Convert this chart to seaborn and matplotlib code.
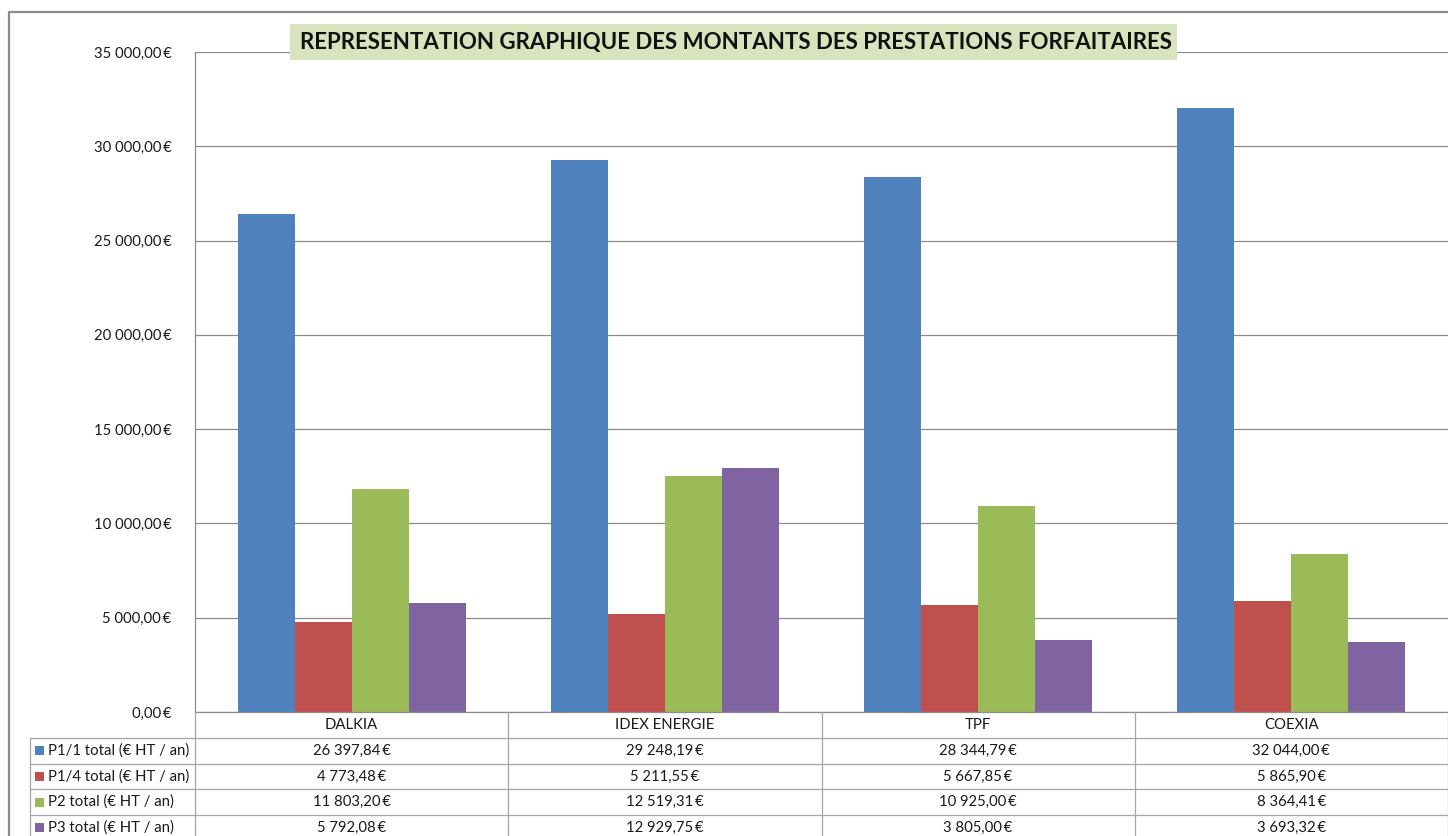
import matplotlib
matplotlib.use("Agg")
import matplotlib.pyplot as plt
import seaborn as sns
import pandas as pd
from matplotlib.lines import Line2D
from matplotlib.patches import Rectangle

companies = ["DALKIA", "IDEX ENERGIE", "TPF", "COEXIA"]
series_names = ["P1/1 total (€ HT / an)", "P1/4 total (€ HT / an)",
                "P2 total (€ HT / an)", "P3 total (€ HT / an)"]
p1_1 = [26397.84, 29248.19, 28344.79, 32044.00]
p1_4 = [4773.48, 5211.55, 5667.85, 5865.90]
p2 = [11803.20, 12519.31, 10925.00, 8364.41]
p3 = [5792.08, 12929.75, 3805.00, 3693.32]
yticks = [0, 5000, 10000, 15000, 20000, 25000, 30000, 35000]
title = "REPRESENTATION GRAPHIQUE DES MONTANTS DES PRESTATIONS FORFAITAIRES"

colors = ["#4F81BD", "#C0504D", "#9BBB59", "#8064A2"]
grid_c = "#8C8C8C"

series_vals = [p1_1, p1_4, p2, p3]
rows = []
for name, vals in zip(series_names, series_vals):
    for c, v in zip(companies, vals):
        rows.append({"company": c, "series": name, "value": v})
df = pd.DataFrame(rows)


def eur(v):
    s = f"{v:,.2f}".replace(",", " ").replace(".", ",")
    return s + "\u2009€"


sns.set_theme(style="white")
plt.rcParams["font.family"] = ["Lato", "DejaVu Sans"]

W, H = 1448, 836
fig = plt.figure(figsize=(W / 100, H / 100), dpi=100)
fig.patch.set_facecolor("white")


def fx(px):
    return px / W


def fy(py):
    return 1 - py / H


left, right, top, bottom = 195, 1448, 52, 712
ax = fig.add_axes([fx(left), fy(bottom), fx(right) - fx(left), fy(top) - fy(bottom)])

sns.barplot(data=df, x="company", y="value", hue="series", palette=colors,
            width=4 / 5.5, gap=0, saturation=1, ax=ax, legend=False,
            edgecolor="none", linewidth=0)

fs = 10.7
ax.set_xlim(-0.5, 3.5)
ax.set_ylim(0, 35000)
ax.set_yticks(yticks)
ax.set_yticklabels([eur(t) for t in yticks], fontsize=fs, color="#1a1a1a")
ax.tick_params(axis="y", length=0, pad=17)
ax.set_xticks([])
ax.set_xlabel("")
ax.set_ylabel("")
ax.yaxis.grid(True, color=grid_c, linewidth=0.9)
ax.set_axisbelow(True)
for s in ["top", "right", "bottom"]:
    ax.spines[s].set_visible(False)
ax.spines["left"].set_color(grid_c)
ax.spines["left"].set_linewidth(0.9)

# overlay canvas in pixel coordinates
cv = fig.add_axes([0, 0, 1, 1], facecolor="none")
cv.set_xlim(0, W)
cv.set_ylim(H, 0)
cv.axis("off")

# outer chart border
cv.add_line(Line2D([9, 9, W + 5], [H + 5, 12, 12], color="#8C8C8C", linewidth=1.6))

# title box
cv.add_patch(Rectangle((290, 24), 887, 36, facecolor="#D7E4BD", edgecolor="none"))
cv.text((290 + 1177) / 2 + 2, 43, title, ha="center", va="center", fontsize=16.0,
        fontweight="bold", color="#111111")

# data table
unit = (right - left) / 4.0
col_edges = [left + i * unit for i in range(5)]
row_y = [712, 738, 763.6, 789.2, 814.8, 840.4]
tcolor = "#A6A6A6"
cv.add_line(Line2D([left, W + 5], [row_y[0], row_y[0]], color=grid_c, linewidth=0.9))
for y in row_y[1:]:
    cv.add_line(Line2D([30, W + 5], [y, y], color=tcolor, linewidth=0.9))
cv.add_line(Line2D([30, 30], [row_y[1], H + 5], color=tcolor, linewidth=0.9))
for x in col_edges:
    cv.add_line(Line2D([x, x], [row_y[0], H + 5], color=tcolor, linewidth=0.9))

for i, c in enumerate(companies):
    cx = left + (i + 0.5) * unit
    cv.text(cx, (row_y[0] + row_y[1]) / 2, c, ha="center", va="center",
            fontsize=fs, color="#1a1a1a")
for r, (name, vals, col) in enumerate(zip(series_names, series_vals, colors)):
    yc = (row_y[r + 1] + row_y[r + 2]) / 2
    cv.add_patch(Rectangle((35, yc - 4.5), 9, 9, facecolor=col, edgecolor="none"))
    cv.text(48, yc, name, ha="left", va="center", fontsize=fs, color="#1a1a1a")
    for i, v in enumerate(vals):
        cx = left + (i + 0.5) * unit
        cv.text(cx, yc, eur(v), ha="center", va="center", fontsize=fs, color="#1a1a1a")

fig.savefig("out.png", dpi=100)
